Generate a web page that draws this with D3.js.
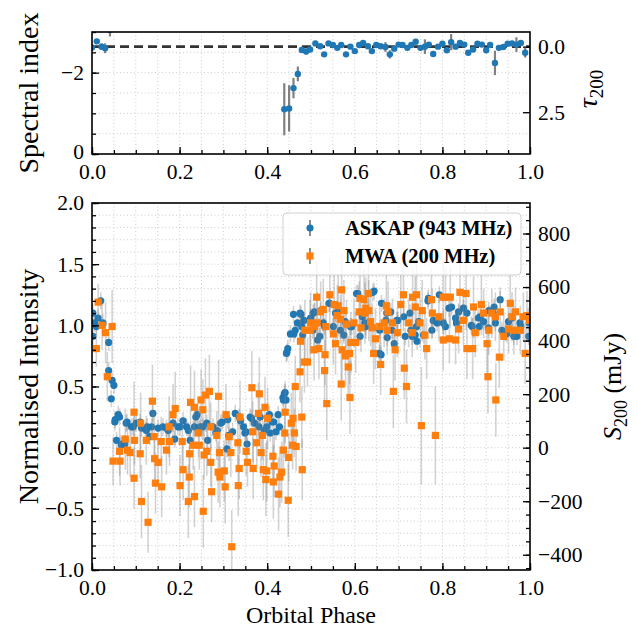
<!DOCTYPE html>
<html>
<head>
<meta charset="utf-8">
<script src="https://cdn.jsdelivr.net/npm/d3@7"></script>
<style>
  body { margin: 0; background: #fff; }
  svg text { font-family: "Liberation Serif", "Times New Roman", serif; fill: #000; }
</style>
</head>
<body>
<div id="chart"></div>
<script>
// ------------------------------------------------------------
// Data
// ------------------------------------------------------------
// spectral index (ASKAP 943 MHz vs MWA 200 MHz): [phase, alpha, err]
const spectralIndex = [
  [0.000, -2.62, 0.08], [0.011, -2.77, 0.06], [0.022, -2.64, 0.08], [0.030, -2.60, 0.12],
  [0.041, -3.05, 0.16],
  [0.439, -1.10, 0.64], [0.450, -1.12, 0.57], [0.460, -1.62, 0.25], [0.470, -1.97, 0.18],
  [0.479, -2.56, 0.08], [0.489, -2.52, 0.07], [0.498, -2.57, 0.06], [0.510, -2.72, 0.05],
  [0.521, -2.65, 0.05], [0.530, -2.45, 0.05], [0.540, -2.72, 0.05], [0.550, -2.68, 0.05],
  [0.560, -2.61, 0.05], [0.569, -2.68, 0.05], [0.580, -2.45, 0.05], [0.590, -2.64, 0.05],
  [0.600, -2.53, 0.05], [0.610, -2.68, 0.05], [0.619, -2.73, 0.05], [0.630, -2.65, 0.05],
  [0.639, -2.53, 0.05], [0.649, -2.68, 0.05], [0.659, -2.65, 0.05], [0.670, -2.63, 0.12],
  [0.680, -2.45, 0.10], [0.690, -2.59, 0.05], [0.700, -2.69, 0.05], [0.709, -2.68, 0.05],
  [0.720, -2.61, 0.05], [0.729, -2.68, 0.05], [0.739, -2.76, 0.05], [0.750, -2.61, 0.05],
  [0.760, -2.64, 0.18], [0.769, -2.69, 0.05], [0.779, -2.46, 0.06], [0.790, -2.64, 0.05],
  [0.800, -2.71, 0.05], [0.810, -2.55, 0.05], [0.820, -2.75, 0.20], [0.830, -2.64, 0.05],
  [0.840, -2.73, 0.05], [0.850, -2.69, 0.05], [0.859, -2.49, 0.06], [0.870, -2.57, 0.05],
  [0.880, -2.71, 0.05], [0.890, -2.69, 0.05], [0.900, -2.55, 0.05], [0.909, -2.68, 0.05],
  [0.920, -2.24, 0.30], [0.929, -2.61, 0.05], [0.939, -2.63, 0.05], [0.949, -2.71, 0.05],
  [0.959, -2.72, 0.05], [0.969, -2.69, 0.18], [0.979, -2.73, 0.05], [0.989, -2.49, 0.12]
];
const alphaRef = -2.64;          // dashed reference line
const tauFactor = Math.log(943 / 200);

// ASKAP normalised intensity: [phase, intensity]
const askap = [
  [0.002,1.10],[0.002,0.91],[0.006,1.02],[0.010,0.99],[0.014,1.06],[0.020,1.20],[0.025,1.02],
  [0.038,0.86],[0.038,0.63],[0.044,0.40],[0.046,0.55],[0.050,0.51],[0.052,0.21],[0.053,0.23],
  [0.056,0.06],[0.060,0.27],[0.063,0.25],[0.067,0.02],[0.069,0.03],[0.075,0.03],[0.078,0.20],
  [0.080,0.21],[0.090,0.17],[0.094,0.17],[0.101,0.20],[0.110,0.21],[0.113,0.16],[0.124,0.14],
  [0.126,0.17],[0.132,0.09],[0.136,0.17],[0.139,0.28],[0.151,0.16],[0.162,0.17],[0.170,0.16],
  [0.174,0.14],[0.185,0.20],[0.189,0.07],[0.196,0.17],[0.201,0.17],[0.208,0.22],[0.216,0.17],
  [0.220,0.14],[0.224,0.06],[0.234,0.17],[0.237,0.25],[0.240,0.27],[0.247,0.17],[0.253,0.17],
  [0.262,0.20],[0.264,0.06],[0.276,0.17],[0.283,0.12],[0.286,0.14],[0.294,0.20],[0.297,0.21],
  [0.308,-0.01],[0.310,0.23],[0.312,0.10],[0.321,0.13],[0.327,0.28],[0.336,0.25],[0.339,0.22],
  [0.346,0.17],[0.349,0.12],[0.352,0.13],[0.354,0.03],[0.361,0.25],[0.364,0.24],[0.371,0.20],
  [0.381,0.17],[0.384,0.25],[0.393,0.14],[0.399,0.17],[0.405,0.27],[0.407,0.12],[0.411,0.21],
  [0.415,0.21],[0.420,0.13],[0.425,0.27],[0.428,0.17],[0.436,0.41],[0.437,0.39],[0.439,0.44],
  [0.441,0.45],[0.443,0.39],[0.444,0.77],[0.445,0.78],[0.447,0.81],[0.453,0.93],[0.460,1.09],
  [0.461,0.93],[0.464,0.96],[0.469,1.02],[0.475,1.10],[0.477,1.09],[0.479,0.99],[0.481,0.92],
  [0.484,1.04],[0.499,1.06],[0.504,0.96],[0.505,1.10],[0.508,1.11],[0.515,0.88],[0.520,0.91],
  [0.522,1.12],[0.528,1.02],[0.531,0.99],[0.541,1.18],[0.543,1.18],[0.551,0.99],[0.556,1.10],
  [0.562,1.11],[0.567,0.96],[0.575,0.92],[0.578,1.03],[0.590,0.99],[0.593,0.99],[0.604,1.26],
  [0.607,1.26],[0.612,0.91],[0.617,1.07],[0.623,1.02],[0.625,0.99],[0.629,1.12],[0.641,1.27],
  [0.644,1.28],[0.656,0.77],[0.657,0.96],[0.660,0.76],[0.661,1.18],[0.671,1.04],[0.673,1.10],
  [0.674,0.90],[0.682,1.11],[0.685,0.96],[0.690,0.85],[0.696,1.04],[0.698,1.04],[0.712,1.07],
  [0.715,0.91],[0.726,1.10],[0.728,0.96],[0.731,0.91],[0.738,0.92],[0.741,0.99],[0.742,0.87],
  [0.746,1.03],[0.757,0.92],[0.767,1.20],[0.768,1.22],[0.776,0.96],[0.779,1.04],[0.788,1.02],
  [0.793,1.25],[0.802,1.02],[0.807,0.99],[0.815,1.14],[0.821,1.15],[0.830,1.06],[0.832,1.02],
  [0.837,1.11],[0.848,1.14],[0.856,1.10],[0.866,1.00],[0.868,0.99],[0.882,1.06],[0.884,0.99],
  [0.886,1.07],[0.894,1.03],[0.905,0.98],[0.906,1.12],[0.916,1.10],[0.918,1.15],[0.921,1.02],
  [0.932,1.21],[0.936,0.96],[0.944,0.94],[0.947,0.93],[0.951,1.03],[0.959,1.06],[0.963,0.91],
  [0.970,0.91],[0.977,1.02],[0.979,0.99],[0.996,1.07],[0.997,0.91],[0.998,1.02]
];
const askapErr = 0.07;

// MWA normalised intensity: [phase, intensity, err]
const mwa = [
  [0.010,0.81,0.15],[0.014,1.19,0.15],[0.023,1.00,0.20],[0.031,0.94,0.25],[0.035,0.58,0.20],
  [0.046,0.99,0.30],[0.048,-0.11,0.20],[0.063,-0.03,0.20],[0.064,-0.11,0.20],[0.076,0.07,0.25],
  [0.081,-0.02,0.20],[0.087,-0.04,0.20],[0.096,0.29,0.25],[0.097,0.06,0.20],[0.096,-0.25,0.25],
  [0.110,-0.05,0.20],[0.111,0.20,0.25],[0.113,-0.44,0.30],[0.124,0.06,0.20],[0.128,-0.61,0.25],
  [0.138,0.38,0.30],[0.142,0.09,0.20],[0.143,-0.09,0.20],[0.145,-0.29,0.25],[0.151,-0.12,0.20],
  [0.158,0.05,0.20],[0.159,-0.32,0.25],[0.170,-0.02,0.20],[0.177,0.05,0.20],[0.176,0.17,0.25],
  [0.185,0.27,0.25],[0.190,0.32,0.30],[0.201,-0.31,0.25],[0.206,0.05,0.20],[0.208,-0.18,0.25],
  [0.220,-0.44,0.30],[0.222,-0.24,0.25],[0.223,-0.05,0.20],[0.225,0.37,0.30],[0.231,0.02,0.20],
  [0.234,-0.40,0.25],[0.234,0.33,0.30],[0.243,0.12,0.20],[0.245,0.02,0.20],[0.249,0.39,0.25],
  [0.253,0.31,0.25],[0.254,-0.52,0.30],[0.256,-0.06,0.20],[0.259,0.43,0.30],[0.262,-0.03,0.20],
  [0.268,0.46,0.30],[0.271,0.17,0.20],[0.271,-0.12,0.20],[0.273,-0.36,0.25],[0.285,0.10,0.20],
  [0.288,-0.20,0.25],[0.289,0.42,0.30],[0.291,-0.04,0.20],[0.292,-0.24,0.25],[0.302,-0.19,0.25],
  [0.304,-0.32,0.30],[0.306,0.27,0.25],[0.313,0.09,0.20],[0.317,-0.04,0.20],[0.319,-0.81,0.30],
  [0.333,0.04,0.20],[0.334,-0.31,0.25],[0.336,-0.17,0.25],[0.338,0.25,0.30],[0.352,-0.03,0.20],
  [0.355,-0.12,0.20],[0.365,0.49,0.30],[0.367,0.13,0.25],[0.368,-0.17,0.25],[0.376,0.04,0.20],
  [0.380,0.28,0.25],[0.382,0.44,0.30],[0.386,-0.04,0.20],[0.389,0.10,0.20],[0.391,-0.18,0.25],
  [0.395,0.33,0.25],[0.397,-0.26,0.30],[0.399,-0.19,0.25],[0.401,0.24,0.25],[0.413,-0.07,0.20],
  [0.414,-0.28,0.30],[0.416,-0.15,0.25],[0.426,-0.38,0.30],[0.429,-0.24,0.25],[0.433,-0.20,0.25],
  [0.437,-0.02,0.20],[0.440,0.12,0.20],[0.441,0.29,0.25],[0.448,-0.43,0.30],[0.449,-0.08,0.20],
  [0.455,0.20,0.25],[0.458,0.02,0.20],[0.459,0.24,0.25],[0.462,0.12,0.20],[0.464,0.50,0.25],
  [0.466,0.01,0.20],[0.475,0.62,0.25],[0.476,0.87,0.25],[0.479,0.25,0.25],[0.480,-0.18,0.25],
  [0.485,0.70,0.25],[0.486,0.96,0.25],[0.492,0.70,0.20],[0.498,0.96,0.25],[0.499,1.02,0.25],
  [0.507,0.80,0.25],[0.508,0.99,0.20],[0.513,1.23,0.30],[0.514,1.02,0.25],[0.518,0.81,0.25],
  [0.522,1.11,0.25],[0.528,1.13,0.25],[0.531,0.63,0.25],[0.532,0.76,0.25],[0.534,0.99,0.20],
  [0.536,0.36,0.30],[0.543,1.25,0.30],[0.551,0.93,0.25],[0.553,1.17,0.25],[0.556,0.85,0.25],
  [0.560,1.08,0.25],[0.562,1.16,0.25],[0.567,1.05,0.20],[0.570,1.29,0.30],[0.569,0.52,0.30],
  [0.571,0.80,0.25],[0.575,1.12,0.25],[0.579,0.75,0.25],[0.581,1.01,0.20],[0.585,0.66,0.25],
  [0.589,0.41,0.30],[0.588,0.77,0.25],[0.591,0.86,0.25],[0.598,1.02,0.20],[0.602,0.86,0.25],
  [0.610,1.11,0.25],[0.612,1.22,0.30],[0.614,0.98,0.20],[0.621,1.21,0.25],[0.623,1.10,0.25],
  [0.625,1.14,0.25],[0.631,1.26,0.30],[0.632,1.12,0.25],[0.636,1.03,0.20],[0.640,0.98,0.20],
  [0.643,0.77,0.25],[0.647,0.89,0.25],[0.657,0.99,0.20],[0.659,0.68,0.25],[0.667,1.02,0.20],
  [0.672,1.16,0.25],[0.674,0.96,0.20],[0.676,1.11,0.25],[0.686,1.02,0.20],[0.688,0.46,0.30],
  [0.692,0.80,0.25],[0.697,0.94,0.20],[0.705,1.17,0.25],[0.711,1.25,0.30],[0.713,0.65,0.25],
  [0.718,0.50,0.30],[0.723,1.02,0.20],[0.731,0.94,0.20],[0.732,1.23,0.25],[0.738,1.15,0.25],
  [0.741,1.25,0.30],[0.749,1.02,0.20],[0.752,0.18,0.48],[0.754,1.12,0.25],[0.760,0.92,0.20],
  [0.764,0.81,0.25],[0.775,1.21,0.25],[0.777,1.10,0.20],[0.784,0.10,0.40],[0.792,1.07,0.20],
  [0.802,1.23,0.30],[0.802,0.88,0.25],[0.807,1.23,0.25],[0.818,1.23,0.25],[0.816,0.89,0.20],
  [0.830,0.88,0.20],[0.837,0.97,0.20],[0.840,1.27,0.30],[0.848,1.04,0.20],[0.854,1.26,0.30],
  [0.856,0.81,0.25],[0.869,0.81,0.25],[0.871,1.15,0.25],[0.875,0.94,0.20],[0.889,1.17,0.25],
  [0.894,1.10,0.20],[0.902,0.85,0.25],[0.904,0.58,0.30],[0.906,0.96,0.20],[0.913,1.10,0.20],
  [0.921,1.07,0.20],[0.922,0.39,0.30],[0.930,0.74,0.25],[0.932,1.11,0.20],[0.940,0.91,0.20],
  [0.951,0.97,0.20],[0.955,1.18,0.25],[0.959,1.07,0.20],[0.963,0.96,0.20],[0.967,1.11,0.20],
  [0.978,0.96,0.20],[0.985,1.07,0.20],[0.989,0.77,0.25],[0.993,1.08,0.20],[0.999,1.04,0.20]
];
const s200PerUnit = 457;     // mJy for normalised intensity of 1

const seriesNames = ["ASKAP (943 MHz)", "MWA (200 MHz)"];
const blue = "#1f77b4", orange = "#ff7f0e";

// ------------------------------------------------------------
// Layout
// ------------------------------------------------------------
const width = 638, height = 629;
const left = 92, right = 530;
const top1 = { y0: 32, y1: 154 };
const bot = { y0: 203, y1: 570 };
const tickFont = 21.5;

const svg = d3.select("#chart").append("svg")
  .attr("width", width).attr("height", height);

const x = d3.scaleLinear().domain([0, 1]).range([left, right]);
const yTop = d3.scaleLinear().domain([0, -3]).range([top1.y1, top1.y0]);
// optical depth axis: tau = (alpha - alphaRef) * ln(943/200), increasing downward
const yTau = d3.scaleLinear()
  .domain([(-3 - alphaRef) * tauFactor, (0 - alphaRef) * tauFactor])
  .range([top1.y0, top1.y1]);
const yBot = d3.scaleLinear().domain([-1, 2]).range([bot.y1, bot.y0]);
const yS = d3.scaleLinear().domain([-s200PerUnit, 2 * s200PerUnit]).range([bot.y1, bot.y0]);

const fmt1 = d3.format(".1f");
const fmt0 = d3.format("d");

// dotted grid lines at minor positions
function grid(g, xs, ys, yScale, y0, y1) {
  const gg = g.append("g").attr("stroke", "#c8c8c8").attr("stroke-width", 0.9)
    .attr("stroke-dasharray", "1,2.5");
  xs.forEach(v => gg.append("line").attr("x1", x(v)).attr("x2", x(v)).attr("y1", y0).attr("y2", y1));
  ys.forEach(v => gg.append("line").attr("x1", left).attr("x2", right).attr("y1", yScale(v)).attr("y2", yScale(v)));
}

function styleAxis(g) {
  g.select(".domain").remove();
  g.selectAll(".tick line").attr("stroke", "#000").attr("stroke-width", 1.3);
  g.selectAll(".tick text").style("font-size", tickFont + "px");
}

const xMinor = d3.range(0, 1.0001, 0.05);
const xMajor = d3.range(0, 1.0001, 0.2);

function xAxes(g, yPos) {
  let a = g.append("g").attr("transform", `translate(0,${yPos})`)
    .call(d3.axisBottom(x).tickValues(xMajor).tickSize(-7).tickPadding(10).tickFormat(fmt1));
  styleAxis(a);
  a = g.append("g").attr("transform", `translate(0,${yPos})`)
    .call(d3.axisBottom(x).tickValues(xMinor).tickSize(-4).tickFormat(""));
  styleAxis(a);
}

// ------------------------------------------------------------
// Top panel
// ------------------------------------------------------------
const p1 = svg.append("g");
p1.append("defs").append("clipPath").attr("id", "clipTop")
  .append("rect").attr("x", left).attr("y", top1.y0).attr("width", right - left).attr("height", top1.y1 - top1.y0);

grid(p1, xMinor, d3.range(-3, 0, 0.5), yTop, top1.y0, top1.y1);

const c1 = p1.append("g").attr("clip-path", "url(#clipTop)");
c1.append("line")
  .attr("x1", left).attr("x2", right).attr("y1", yTop(alphaRef)).attr("y2", yTop(alphaRef))
  .attr("stroke", "#333").attr("stroke-width", 2.6).attr("stroke-dasharray", "9,5");
c1.selectAll(".eb").data(spectralIndex).enter().append("line")
  .attr("x1", d => x(d[0])).attr("x2", d => x(d[0]))
  .attr("y1", d => yTop(d[1] - d[2])).attr("y2", d => yTop(d[1] + d[2]))
  .attr("stroke", "#808080").attr("stroke-width", 2.2);
c1.selectAll(".pt").data(spectralIndex).enter().append("circle")
  .attr("cx", d => x(d[0])).attr("cy", d => yTop(d[1])).attr("r", 3.2).attr("fill", blue);

xAxes(p1, top1.y1);
let ax = p1.append("g").attr("transform", `translate(${left},0)`)
  .call(d3.axisLeft(yTop).tickValues([-2, 0]).tickSize(-7).tickPadding(8).tickFormat(fmt0));
styleAxis(ax);
ax.selectAll(".tick text").attr("dy", (d) => d === 0 ? "0.2em" : "0.32em");
ax = p1.append("g").attr("transform", `translate(${left},0)`)
  .call(d3.axisLeft(yTop).tickValues(d3.range(-3, 0.01, 0.5)).tickSize(-4).tickFormat(""));
styleAxis(ax);
ax = p1.append("g").attr("transform", `translate(${right},0)`)
  .call(d3.axisRight(yTau).tickValues([0, 2.5]).tickSize(-7).tickPadding(8).tickFormat(fmt1));
styleAxis(ax);

p1.append("rect").attr("x", left).attr("y", top1.y0).attr("width", right - left).attr("height", top1.y1 - top1.y0)
  .attr("fill", "none").attr("stroke", "#000").attr("stroke-width", 1.6);

p1.append("text").attr("transform", `translate(38,${(top1.y0 + top1.y1) / 2}) rotate(-90)`)
  .attr("text-anchor", "middle").style("font-size", "28px").text("Spectral index");
const tauLab = p1.append("text").attr("transform", `translate(597,${(top1.y0 + top1.y1) / 2 - 4}) rotate(-90)`)
  .attr("text-anchor", "middle").style("font-size", "28px");
tauLab.append("tspan").style("font-style", "italic").text("τ");
tauLab.append("tspan").attr("dy", 6).style("font-size", "19px").text("200");

// ------------------------------------------------------------
// Bottom panel
// ------------------------------------------------------------
const p2 = svg.append("g");
p2.append("defs").append("clipPath").attr("id", "clipBot")
  .append("rect").attr("x", left).attr("y", bot.y0).attr("width", right - left).attr("height", bot.y1 - bot.y0);

grid(p2, xMinor, d3.range(-1, 2.001, 0.1), yBot, bot.y0, bot.y1);

const c2 = p2.append("g").attr("clip-path", "url(#clipBot)");
const ebColor = "rgba(128,128,128,0.35)";

// ASKAP
c2.append("g").selectAll("line").data(askap).enter().append("line")
  .attr("x1", d => x(d[0])).attr("x2", d => x(d[0]))
  .attr("y1", d => yBot(d[1] - askapErr)).attr("y2", d => yBot(d[1] + askapErr))
  .attr("stroke", ebColor).attr("stroke-width", 1.6);
c2.append("g").selectAll("circle").data(askap).enter().append("circle")
  .attr("cx", d => x(d[0])).attr("cy", d => yBot(d[1])).attr("r", 3.6).attr("fill", blue);

// MWA
c2.append("g").selectAll("line").data(mwa).enter().append("line")
  .attr("x1", d => x(d[0])).attr("x2", d => x(d[0]))
  .attr("y1", d => yBot(d[1] - d[2])).attr("y2", d => yBot(d[1] + d[2]))
  .attr("stroke", ebColor).attr("stroke-width", 1.6);
c2.append("g").selectAll("rect").data(mwa).enter().append("rect")
  .attr("x", d => x(d[0]) - 3.6).attr("y", d => yBot(d[1]) - 3.6)
  .attr("width", 7.2).attr("height", 7.2).attr("fill", orange);

xAxes(p2, bot.y1);
ax = p2.append("g").attr("transform", `translate(${left},0)`)
  .call(d3.axisLeft(yBot).tickValues(d3.range(-1, 2.001, 0.5)).tickSize(-7).tickPadding(8).tickFormat(fmt1));
styleAxis(ax);
ax = p2.append("g").attr("transform", `translate(${left},0)`)
  .call(d3.axisLeft(yBot).tickValues(d3.range(-1, 2.001, 0.1)).tickSize(-4).tickFormat(""));
styleAxis(ax);
ax = p2.append("g").attr("transform", `translate(${right},0)`)
  .call(d3.axisRight(yS).tickValues(d3.range(-400, 801, 200)).tickSize(-7).tickPadding(8).tickFormat(fmt0));
styleAxis(ax);
ax = p2.append("g").attr("transform", `translate(${right},0)`)
  .call(d3.axisRight(yS).tickValues(d3.range(-450, 901, 50)).tickSize(-4).tickFormat(""));
styleAxis(ax);

p2.append("rect").attr("x", left).attr("y", bot.y0).attr("width", right - left).attr("height", bot.y1 - bot.y0)
  .attr("fill", "none").attr("stroke", "#000").attr("stroke-width", 1.6);

p2.append("text").attr("transform", `translate(38,${(bot.y0 + bot.y1) / 2}) rotate(-90)`)
  .attr("text-anchor", "middle").style("font-size", "28px").text("Normalised Intensity");
const sLab = p2.append("text").attr("transform", `translate(621,${(bot.y0 + bot.y1) / 2}) rotate(-90)`)
  .attr("text-anchor", "middle").style("font-size", "26px");
sLab.append("tspan").style("font-style", "italic").text("S");
sLab.append("tspan").attr("dy", 6).style("font-size", "18px").text("200");
sLab.append("tspan").attr("dy", -6).text(" (mJy)");
p2.append("text").attr("x", (left + right) / 2).attr("y", 623)
  .attr("text-anchor", "middle").style("font-size", "24px").text("Orbital Phase");

// legend
const lg = p2.append("g").attr("transform", "translate(283,213)");
lg.append("rect").attr("width", 238).attr("height", 62).attr("rx", 4)
  .attr("fill", "rgba(255,255,255,0.8)").attr("stroke", "#d0d0d0").attr("stroke-width", 1);
seriesNames.forEach((name, i) => {
  const cy = 15 + i * 28;
  lg.append("line").attr("x1", 27).attr("x2", 27).attr("y1", cy - 8).attr("y2", cy + 8)
    .attr("stroke", "#808080").attr("stroke-width", 1.8);
  if (i === 0) {
    lg.append("circle").attr("cx", 27).attr("cy", cy).attr("r", 3.6).attr("fill", blue);
  } else {
    lg.append("rect").attr("x", 23.4).attr("y", cy - 3.6).attr("width", 7.2).attr("height", 7.2).attr("fill", orange);
  }
  lg.append("text").attr("x", 62).attr("y", cy + 7).style("font-size", "20.5px")
    .style("font-weight", "bold").text(name);
});
</script>
</body>
</html>
